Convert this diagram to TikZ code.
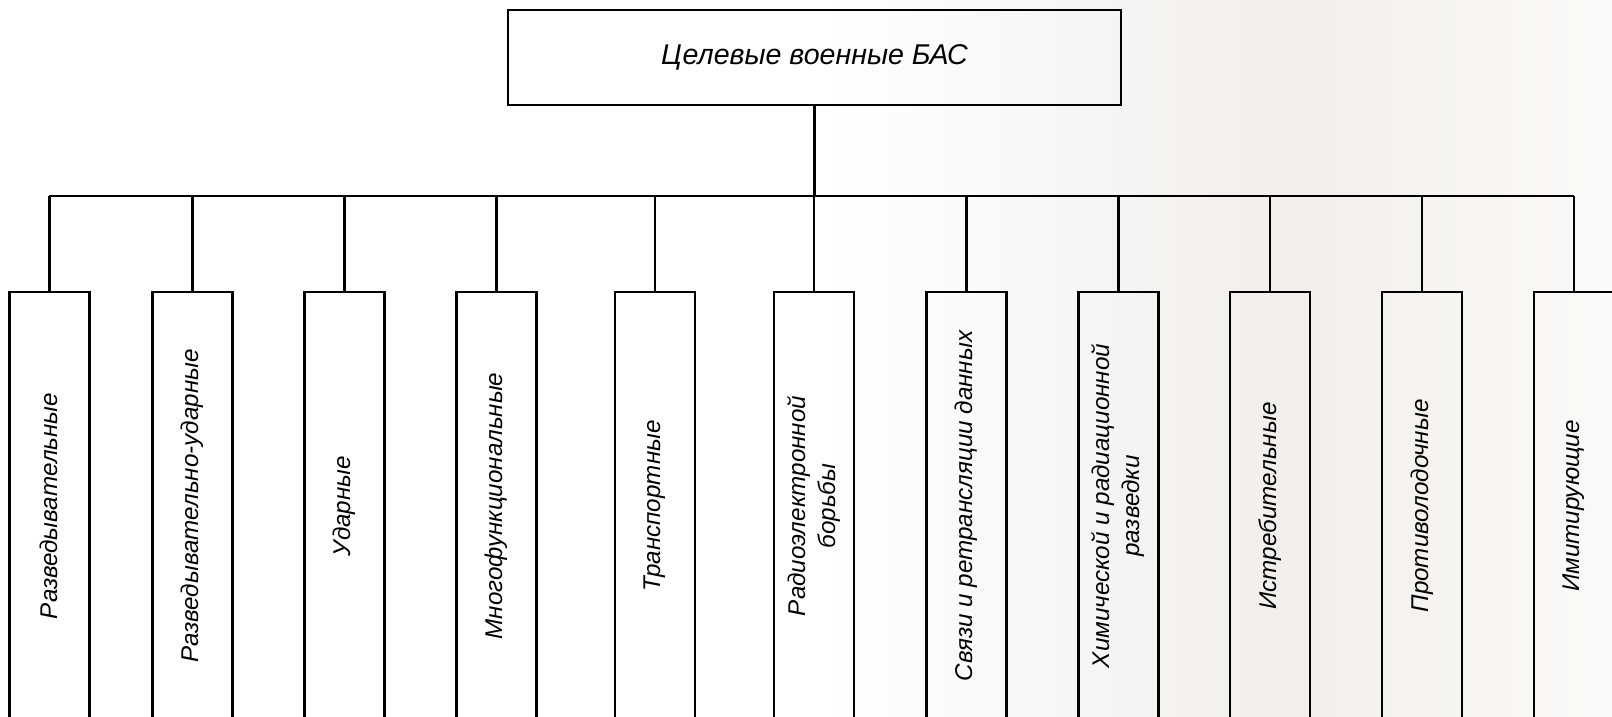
\documentclass[tikz,border=0pt]{standalone}
\usepackage{fontspec}
\setmainfont{Liberation Sans}
\definecolor{bgmid}{RGB}{241,238,235}
\definecolor{bgend}{RGB}{252,250,248}
\tikzset{
  topbox/.style={draw,line width=1.2pt,minimum width=306.5pt,
    minimum height=47.5pt,font=\fontsize{14.3}{17}\selectfont\itshape},
  leafbox/.style={draw,line width=1.2pt,rotate=90,minimum width=214pt,
    minimum height=40pt,inner sep=0pt,align=center,
    font=\fontsize{12.1}{15}\selectfont\itshape}
}
\begin{document}
\begin{tikzpicture}[x=0.5pt,y=-0.5pt,line width=1.2pt]
\useasboundingbox (0,0) rectangle (1612,717);
% background
\fill[white] (0,0) rectangle (821,717);
\shade[left color=white,right color=bgmid] (820,0) rectangle (1291,717);
\shade[left color=bgmid,right color=bgend] (1290,0) rectangle (1612,717);
\node[topbox] (bas) at (814.5,57.5) {Целевые военные БАС};
\coordinate (bus) at (814.5,196);
\draw (bas.south) -- (bus);
\foreach \i/\x/\txt in {1/49.3/Разведывательные,
  2/192.5/Разведывательно-ударные, 3/344.4/Ударные,
  4/496.6/Многофункциональные, 5/654.9/Транспортные,
  6/814.2/{Радиоэлектронной\\борьбы},
  7/966.4/Связи и ретрансляции данных,
  8/1118.5/{Химической и радиационной\\разведки},
  9/1269.7/Истребительные, 10/1421.8/Противолодочные,
  11/1573.9/Имитирующие}{
  \node[leafbox] (t\i) at (\x,506) {\txt};
  \draw (t\i.east) -- (t\i.east |- bus);
}
\draw (t1.east |- bus) -- (t11.east |- bus);
\end{tikzpicture}
\end{document}
